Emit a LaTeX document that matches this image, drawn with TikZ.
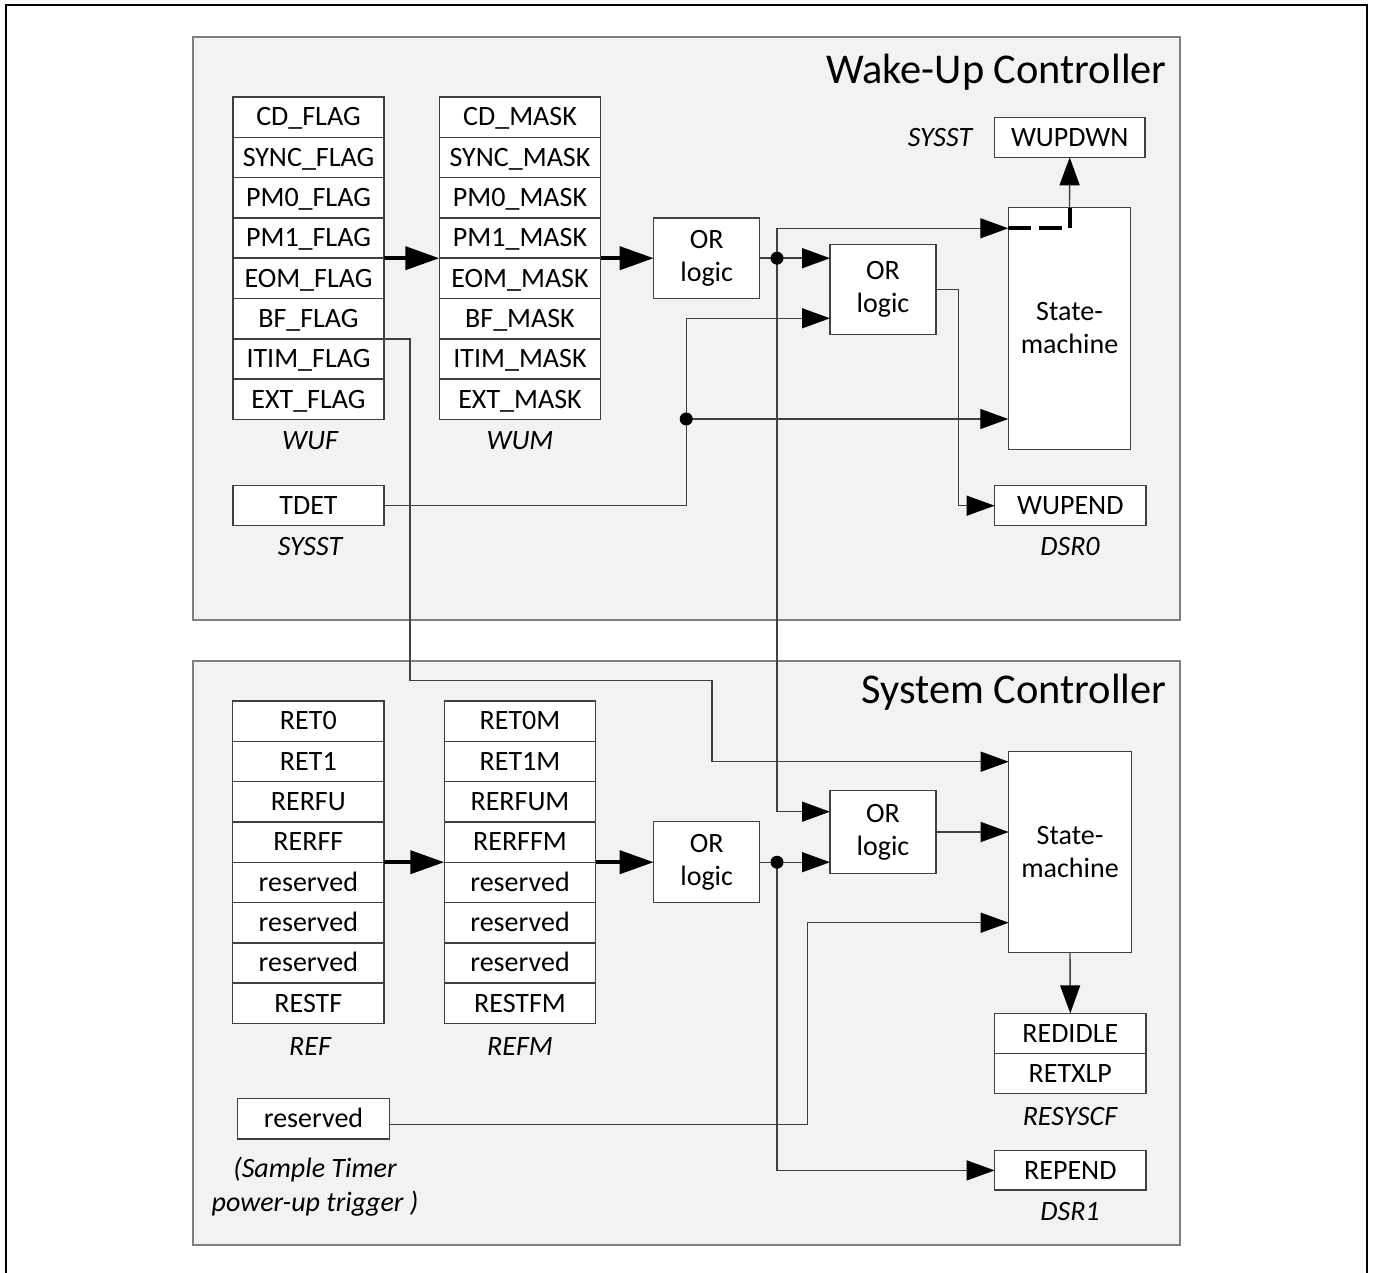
\documentclass[tikz,border=0pt]{standalone}
\usepackage{fontspec}
\setmainfont{Carlito}
\usepackage{tikz}
\usetikzlibrary{%
arrows.meta,%
calc,%
positioning}

\definecolor{panelfill}{HTML}{F2F2F2}
\definecolor{panelline}{HTML}{7F7F7F}
\definecolor{wirecol}{HTML}{404040}

\begin{document}
\begin{tikzpicture}[x=0.5pt,y=-0.5pt,
    reg/.style={draw=wirecol,line width=0.7pt,fill=white,inner sep=0pt,outer sep=0pt,
      minimum height=20.15pt,text height=10.3pt,text depth=1.5pt,font=\fontsize{14}{16}\selectfont},
    gate/.style={draw=wirecol,line width=0.7pt,fill=white,align=center,inner sep=0pt,outer sep=0pt,
      minimum width=53pt,font=\fontsize{14}{16.5}\selectfont},
    regname/.style={font=\fontsize{14}{17}\selectfont\itshape,inner sep=0pt,align=center},
    title/.style={font=\fontsize{21.2}{25}\selectfont,anchor=east,inner sep=0pt},
    panel/.style={draw=panelline,line width=1pt,fill=panelfill},
    wire/.style={draw=wirecol,line width=0.7pt},
    sig/.style={wire,-{Triangle[length=14pt,width=10pt,color=black]}},
    bus/.style={line width=2pt,-{Triangle[length=17pt,width=11.5pt]}},
    dashbus/.style={line width=2pt,dash pattern=on 11.5pt off 4pt}]
\useasboundingbox (0,0) rectangle (1375,1273);
\draw[line width=0.75pt] (6,1273) -- (6,5) -- (1367,5) -- (1367,1273);

\draw[panel] (193,37) rectangle (1180,620);
\draw[panel] (193,661) rectangle (1180,1245);
\node[title] (wuctitle) at (1167,72) {Wake-Up Controller};
\node[title] (syctitle) at (1167,692) {System Controller};

% Wake-Up Controller
\foreach \txt [count=\i] in {CD\_FLAG,SYNC\_FLAG,PM0\_FLAG,PM1\_FLAG,EOM\_FLAG,BF\_FLAG,ITIM\_FLAG,EXT\_FLAG}
  \node[reg,minimum width=75.65pt] (wuf\i) at (308.5,{117.15+40.3*(\i-1)}) {\txt};
\foreach \txt [count=\i] in {CD\_MASK,SYNC\_MASK,PM0\_MASK,PM1\_MASK,EOM\_MASK,BF\_MASK,ITIM\_MASK,EXT\_MASK}
  \node[reg,minimum width=80.7pt] (wum\i) at (520,{117.15+40.3*(\i-1)}) {\txt};
\node[regname] (wufname) at (310,441) {WUF};
\node[regname] (wumname) at (520,441) {WUM};

\node[reg,minimum width=75.65pt,minimum height=20pt] (tdet) at (308.5,505.7) {TDET};
\node[regname] (tdetname) at (310,547) {SYSST};

\node[gate,minimum height=40.15pt] (or1) at (706.7,258.2) {OR\\logic};
\node[gate,minimum height=45pt] (or2) at (883,289.3) {OR\\logic};
\node[gate,minimum width=61.25pt,minimum height=120.8pt] (smA) at (1069.5,328.5) {State-\\machine};

\node[reg,minimum width=75.35pt,minimum height=20pt] (wupdwn) at (1069.7,137.3) {WUPDWN};
\node[regname] (wupdwnname) at (940,137.3) {SYSST};
\node[reg,minimum width=75.7pt,minimum height=20pt] (wupend) at (1070.3,505.7) {WUPEND};
\node[regname] (wupendname) at (1070,547) {DSR0};

% System Controller
\foreach \txt [count=\i] in {RET0,RET1,RERFU,RERFF,reserved,reserved,reserved,RESTF}
  \node[reg,minimum width=75.65pt] (ref\i) at (308.35,{721.15+40.3*(\i-1)}) {\txt};
\foreach \txt [count=\i] in {RET0M,RET1M,RERFUM,RERFFM,reserved,reserved,reserved,RESTFM}
  \node[reg,minimum width=75.7pt] (refm\i) at (520,{721.15+40.3*(\i-1)}) {\txt};
\node[regname] (refname) at (310,1047) {REF};
\node[regname] (refmname) at (520,1047) {REFM};

\node[reg,minimum width=75.8pt,minimum height=20.35pt] (resv) at (313.5,1118.7) {reserved};
\node[regname] (resvname) at (315,1187) {(Sample Timer\\power-up trigger )};

\node[gate,minimum height=40.5pt] (or1b) at (706.7,862.2) {OR\\logic};
\node[gate,minimum height=41.3pt] (or2b) at (883,832) {OR\\logic};
\node[gate,minimum width=61.3pt,minimum height=100.3pt] (smB) at (1070,852) {State-\\machine};

\node[reg,minimum width=75.7pt,minimum height=20pt] (resys1) at (1070.3,1033.3) {REDIDLE};
\node[reg,minimum width=75.7pt,minimum height=20pt] (resys2) at (1070.3,1073.3) {RETXLP};
\node[regname] (resysname) at (1070,1116) {RESYSCF};
\node[reg,minimum width=75.7pt,minimum height=19.65pt] (repend) at (1070.3,1170.4) {REPEND};
\node[regname] (repename) at (1070,1212) {DSR1};

% wires
\coordinate (jA) at (777,258.2);
\coordinate (jB) at (686.2,419);
\coordinate (jC) at (777,862.2);
\coordinate (smAtop) at ($(smA.north west)+(0,20.6)$);
\coordinate (orTin) at ($(or2.south west)+(0,-16)$);
\coordinate (orBin) at ($(or2b.north west)+(0,21)$);
\coordinate (bfA) at (410,680.7);
\coordinate (bfB) at (711.9,761.7);
\coordinate (kR) at (807.7,922.7);

\draw[bus] (wuf4.south east) -- (wum4.south west);
\draw[bus] (wum4.south east) -- (wum4.south east -| or1.west);
\draw[wire] (or1.east) -- (jA);
\draw[sig] (jA) -- (jA -| or2.west);
\draw[sig] (jA) |- (smAtop);
\draw[dashbus] (smAtop) -| (smA.north);
\draw[sig] (smA.north) -- (wupdwn.south);
\draw[sig] (jA) |- (orBin);
\draw[sig] (tdet.east) -| (orTin -| jB) -- (orTin);
\draw[sig] (jB) -- (jB -| smA.west);
\draw[sig] (or2.east) -- ++(22.2,0) |- (wupend.west);
\draw[sig] (wuf6.south east) -| (bfA) -| (bfB) -- (bfB -| smB.west);

\draw[bus] (ref4.south east) -- (refm4.south west);
\draw[bus] (refm4.south east) -- (refm4.south east -| or1b.west);
\draw[wire] (or1b.east) -- (jC);
\draw[sig] (jC) -- (jC -| or2b.west);
\draw[sig] (jC) |- (repend.west);
\draw[sig] (or2b.east) -- (or2b.east -| smB.west);
\draw[sig] ($(resv.east)+(0,5.5)$) -| (kR) -- (kR -| smB.west);
\draw[sig] (smB.south) -- (resys1.north);

\fill (jA) circle (3.25pt);
\fill (jB) circle (3.25pt);
\fill (jC) circle (3.25pt);
\end{tikzpicture}
\end{document}
